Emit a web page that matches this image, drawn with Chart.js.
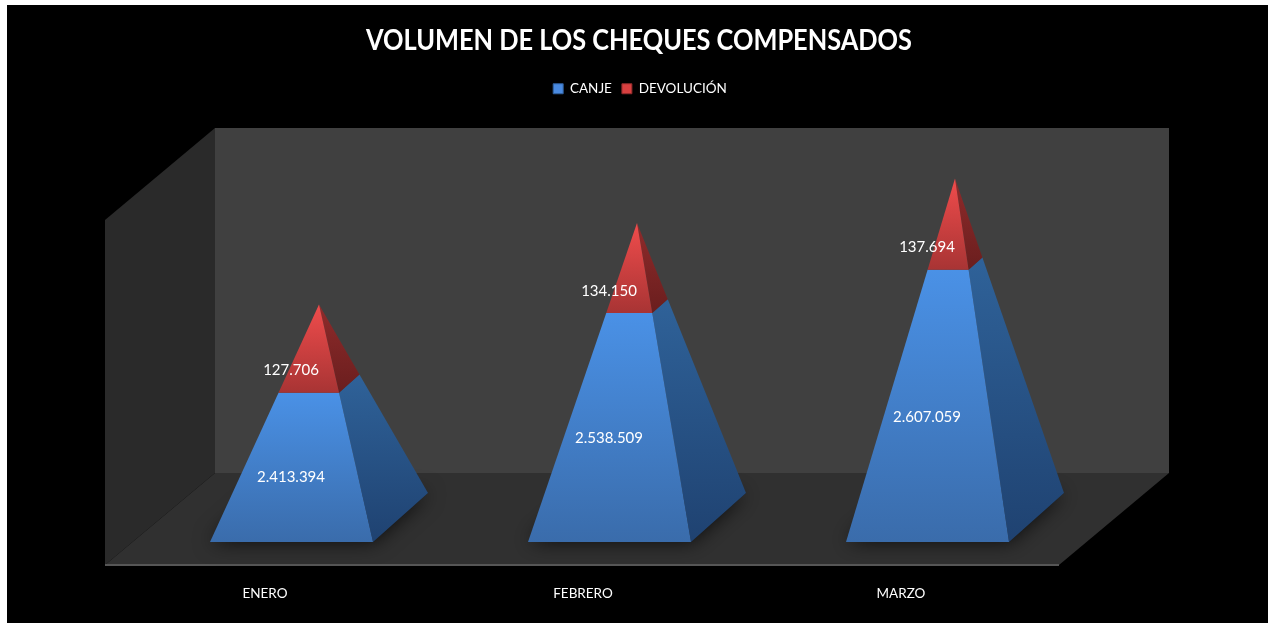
<!DOCTYPE html>
<html lang="es">
<head>
<meta charset="UTF-8">
<title>Volumen de los cheques compensados</title>
<style>
  body { margin: 0; background: #fff; }
  #bg { position: absolute; left: 7px; top: 5px; right: 0; bottom: 0; background: #000; }
  canvas { position: absolute; left: 0; top: 0; }
</style>
<script src="https://cdn.jsdelivr.net/npm/chart.js"></script>
</head>
<body>
<div id="bg"></div>
<canvas id="chart" width="1268" height="623"></canvas>
<script>
const months = ['ENERO', 'FEBRERO', 'MARZO'];
const canje = [2413394, 2538509, 2607059];
const devolucion = [127706, 134150, 137694];

const FONT = 'Lato, "Open Sans", sans-serif';
// half of the 3d depth, wall box and pyramid base
const WALL_DX = 55, WALL_DY = 46;
const BASE_DX = 27.5, BASE_DY = 24.5;

const fmt = v => String(v).replace(/\B(?=(\d{3})+$)/g, '.');

function poly(ctx, pts, fill) {
  ctx.beginPath();
  pts.forEach((p, i) => i ? ctx.lineTo(p[0], p[1]) : ctx.moveTo(p[0], p[1]));
  ctx.closePath();
  ctx.fillStyle = fill;
  ctx.fill();
}

function grad(ctx, y0, y1, c0, c1) {
  const g = ctx.createLinearGradient(0, y0, 0, y1);
  g.addColorStop(0, c0);
  g.addColorStop(1, c1);
  return g;
}

// square section of the pyramid at a given value
function section(cx, hw, yScale, v, total) {
  const yc = yScale.getPixelForValue(v);
  const k = 1 - (v - yScale.min) / (total - yScale.min);
  return {
    fl: [cx - hw * k - BASE_DX * k, yc + BASE_DY * k],
    fr: [cx + hw * k - BASE_DX * k, yc + BASE_DY * k],
    br: [cx + hw * k + BASE_DX * k, yc - BASE_DY * k],
    bl: [cx - hw * k + BASE_DX * k, yc - BASE_DY * k]
  };
}

const pyramidPlugin = {
  id: 'pyramids',
  beforeInit(chart) {
    // room between the legend and the 3d box
    const fit = chart.legend.fit;
    chart.legend.fit = function () {
      fit.call(this);
      this.height += 68.5;
    };
    // the reference title is a narrow font, squeeze it sideways
    const title = chart.titleBlock, drawTitle = title.draw;
    title.draw = function () {
      const ctx = this.ctx, cx = (this.left + this.right) / 2;
      ctx.save();
      ctx.translate(cx, 0);
      ctx.scale(0.905, 1);
      ctx.translate(-cx, 0);
      drawTitle.call(this);
      ctx.restore();
    };
  },
  afterLayout(chart) {
    // title and legend sit a bit right of the plot centre
    chart.titleBlock.left += 2;
    chart.titleBlock.right += 2;
    chart.legend.left += 3;
    chart.legend.right += 3;
  },
  beforeDatasetsDraw(chart) {
    const ctx = chart.ctx, a = chart.chartArea;
    const l = a.left, r = a.right, t = a.top, b = a.bottom + 1.5;
    ctx.save();
    poly(ctx, [[l + WALL_DX, t - WALL_DY], [r + WALL_DX, t - WALL_DY], [r + WALL_DX, b - WALL_DY], [l + WALL_DX, b - WALL_DY]], '#404040');
    poly(ctx, [[l - WALL_DX, t + WALL_DY], [l + WALL_DX, t - WALL_DY], [l + WALL_DX, b - WALL_DY], [l - WALL_DX, b + WALL_DY]], '#2a2a2a');
    poly(ctx, [[l - WALL_DX, b + WALL_DY], [l + WALL_DX, b - WALL_DY], [r + WALL_DX, b - WALL_DY], [r - WALL_DX, b + WALL_DY]], '#303030');
    poly(ctx, [[l - WALL_DX, b + WALL_DY - 1], [r - WALL_DX, b + WALL_DY - 1], [r - WALL_DX, b + WALL_DY + 1], [l - WALL_DX, b + WALL_DY + 1]], '#565656');
    ctx.restore();
  },
  beforeDatasetDraw() {
    return false; // bars are replaced by the pyramids
  },
  afterDatasetsDraw(chart) {
    const ctx = chart.ctx, yScale = chart.scales.y;
    const low = chart.getDatasetMeta(0).data, high = chart.getDatasetMeta(1).data;
    ctx.save();
    low.forEach((bar, i) => {
      const cx = bar.x, hw = bar.width / 2;
      const total = canje[i] + devolucion[i];
      const base = section(cx, hw, yScale, yScale.min, total);
      const mid = section(cx, hw, yScale, canje[i], total);
      const apex = [cx, high[i].y];

      // floor shadow
      ctx.save();
      ctx.shadowColor = 'rgba(0,0,0,0.75)';
      ctx.shadowBlur = 20;
      poly(ctx, [base.fl, base.fr, base.br, base.bl], '#1a1a1a');
      ctx.restore();

      poly(ctx, [mid.fr, mid.br, base.br, base.fr], grad(ctx, mid.br[1], base.fr[1], '#2f6299', '#1f4271'));
      poly(ctx, [mid.fl, mid.fr, base.fr, base.fl], grad(ctx, mid.fl[1], base.fl[1], '#4a91e6', '#3a6cab'));
      poly(ctx, [apex, mid.br, mid.fr], grad(ctx, apex[1], mid.fr[1], '#8f2b2b', '#6a1e1e'));
      poly(ctx, [apex, mid.fr, mid.fl], grad(ctx, apex[1], mid.fl[1], '#f04c4c', '#a83434'));

      ctx.fillStyle = '#fff';
      ctx.font = '15px ' + FONT;
      ctx.textAlign = 'center';
      ctx.textBaseline = 'middle';
      const frontX = cx - BASE_DX - 0.5;
      const y1 = yScale.getPixelForValue((yScale.min + canje[i]) / 2) + BASE_DY + 2;
      const y2 = yScale.getPixelForValue(canje[i] + devolucion[i] / 2) + BASE_DY + 2;
      ctx.fillText(fmt(canje[i]), frontX, y1);
      ctx.fillText(fmt(devolucion[i]), frontX, y2);
    });
    ctx.restore();
  }
};

new Chart(document.getElementById('chart'), {
  type: 'bar',
  data: {
    labels: months,
    datasets: [
      { label: 'CANJE', data: canje, backgroundColor: '#4a8ae0', borderColor: '#2f5f9e', borderWidth: 1 },
      { label: 'DEVOLUCIÓN', data: devolucion, backgroundColor: '#d84040', borderColor: '#8f2b2b', borderWidth: 1 }
    ]
  },
  plugins: [pyramidPlugin],
  options: {
    responsive: false,
    animation: false,
    layout: { padding: { left: 160, right: 154 } },
    datasets: { bar: { barPercentage: 1, categoryPercentage: 0.5126 } },
    scales: {
      x: {
        stacked: true,
        grid: { display: false },
        border: { display: false },
        ticks: { color: '#fff', font: { family: FONT, size: 13.5 }, padding: 60, labelOffset: -54, maxRotation: 0 },
        afterFit(scale) { scale.height = 105.5; }
      },
      y: { stacked: true, display: false, min: 2197000, max: 2752000 }
    },
    plugins: {
      title: {
        display: true,
        text: 'VOLUMEN DE LOS CHEQUES COMPENSADOS',
        color: '#fff',
        font: { family: FONT, size: 28, weight: 'bold' },
        padding: { top: 24, bottom: 14.4 }
      },
      legend: {
        position: 'top',
        labels: { color: '#fff', font: { family: FONT, size: 13.5 }, boxWidth: 10, boxHeight: 10, padding: 10 }
      },
      tooltip: { enabled: false }
    }
  }
});
</script>
</body>
</html>
